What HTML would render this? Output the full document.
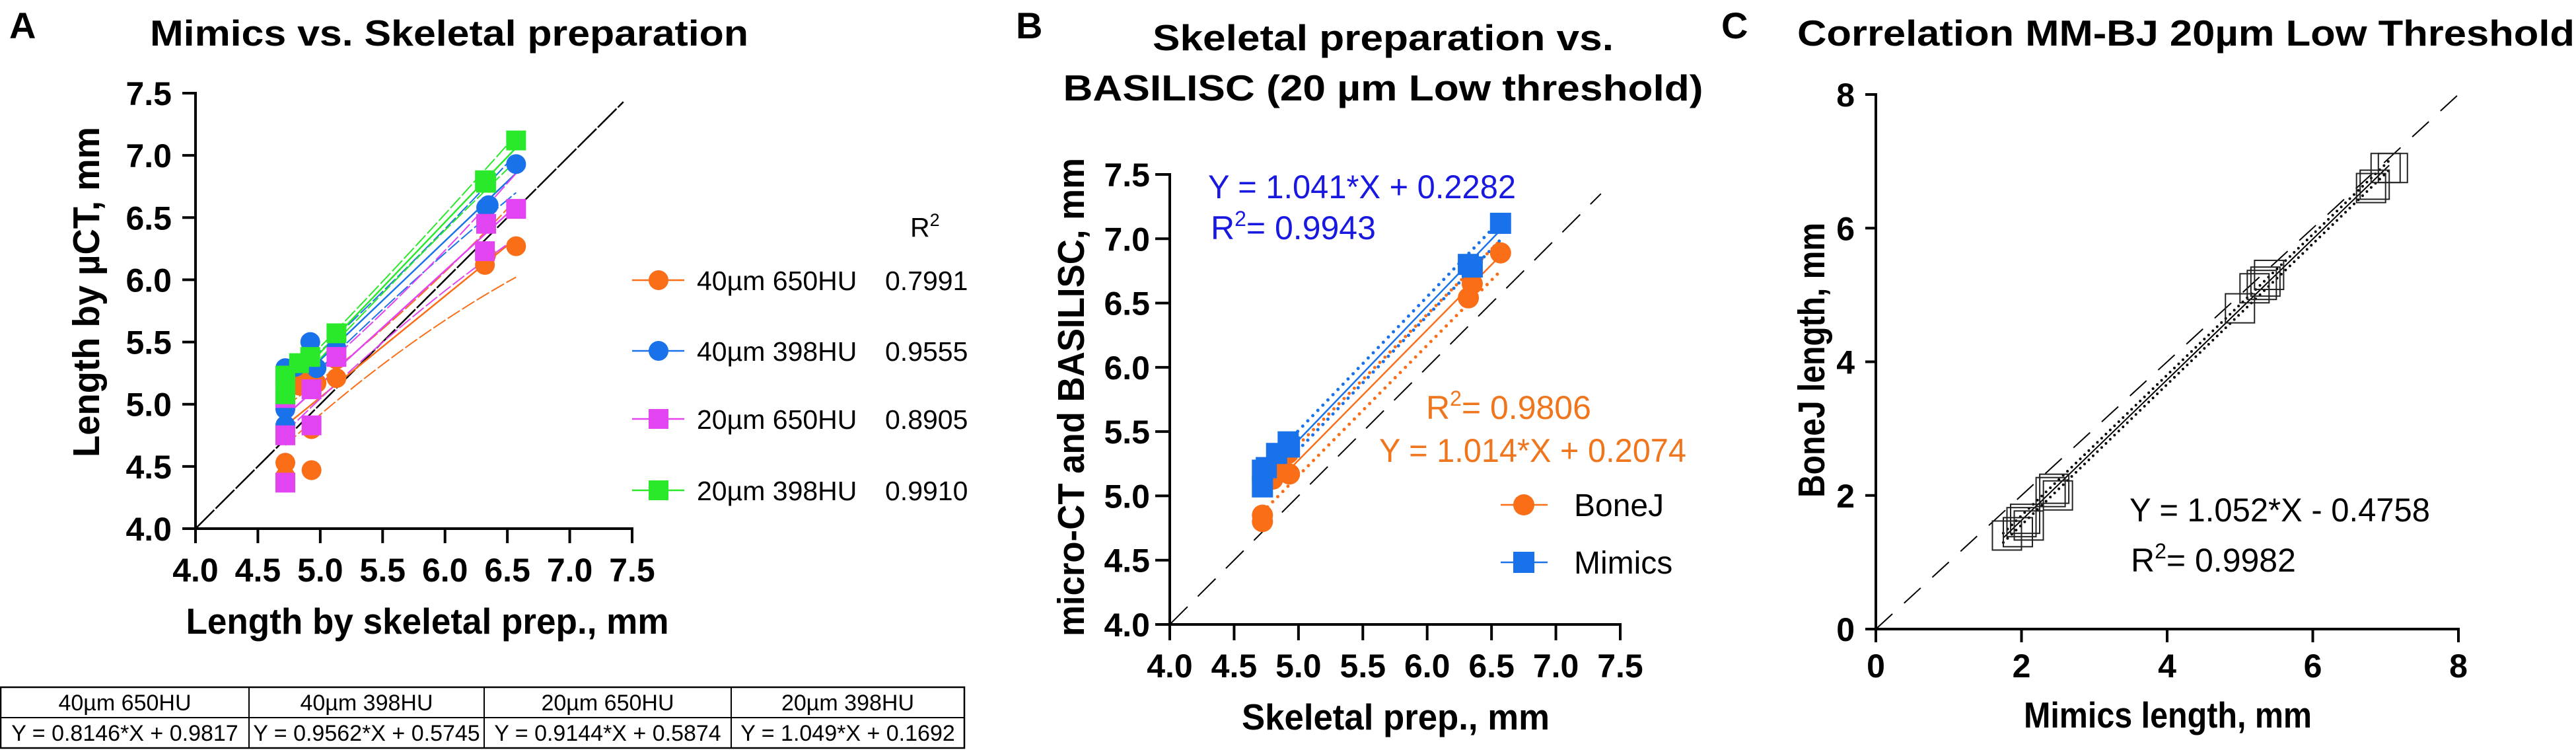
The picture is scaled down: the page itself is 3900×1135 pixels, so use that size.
<!DOCTYPE html>
<html><head><meta charset="utf-8"><style>
html,body{margin:0;padding:0;background:#fff;}
svg{display:block;font-family:"Liberation Sans",Arial,sans-serif;}
</style></head><body>
<svg id="fig" width="3900" height="1135" viewBox="0 0 3900 1135" xmlns="http://www.w3.org/2000/svg">
<g id="pA"></g>
<g id="pB"></g>
<g id="pC"></g>
</svg>
<script>
// ---------- Panel A data ----------
const aSeriesNames = ["40\u00b5m 650HU","40\u00b5m 398HU","20\u00b5m 650HU","20\u00b5m 398HU"];
const aR2 = ["0.7991","0.9555","0.8905","0.9910"];
const aSlopes = [0.8146,0.9562,0.9144,1.049];
const aIntercepts = [0.9817,0.5745,0.5874,0.1692];
const aEquations = ["Y = 0.8146*X + 0.9817","Y = 0.9562*X + 0.5745","Y = 0.9144*X + 0.5874","Y = 1.049*X + 0.1692"];
const aOrangeX = [4.72,4.72,4.93,4.93,4.72,4.78,4.83,4.92,4.97,5.13,5.13,6.32,6.33,6.57];
const aOrangeY = [4.53,4.42,4.47,4.80,5.17,5.18,5.15,5.23,5.17,5.36,5.21,6.12,6.20,6.27];
const aBlueX = [4.72,4.72,4.72,4.80,4.92,4.97,5.13,5.13,6.33,6.35,6.57];
const aBlueY = [4.83,4.96,5.29,5.30,5.50,5.29,5.53,5.45,6.58,6.60,6.93];
const aMagX = [4.72,4.72,4.72,4.93,4.93,5.13,6.32,6.33,6.57];
const aMagY = [4.37,4.75,5.05,4.83,5.12,5.38,6.23,6.45,6.57];
const aGreenX = [4.72,4.72,4.83,4.92,5.13,6.32,6.33,6.57];
const aGreenY = [5.08,5.23,5.33,5.38,5.57,6.80,6.78,7.12];
const aTicks = ["4.0","4.5","5.0","5.5","6.0","6.5","7.0","7.5"];
// ---------- Panel B data ----------
const bBoneX = [4.72,4.72,4.72,4.80,4.83,4.92,4.93,6.32,6.35,6.57];
const bBoneY = [4.85,4.80,5.11,5.13,5.21,5.33,5.17,6.54,6.65,6.89];
const bMimX = [4.72,4.72,4.75,4.83,4.92,4.93,6.32,6.35,6.57];
const bMimY = [5.07,5.20,5.22,5.33,5.42,5.38,6.80,6.78,7.12];
const bSlopes = [1.014,1.041];
const bIntercepts = [0.2074,0.2282];
const bTicks = ["4.0","4.5","5.0","5.5","6.0","6.5","7.0","7.5"];
// ---------- Panel C data ----------
const cX = [1.8,1.95,2.0,2.05,2.1,2.4,2.45,2.5,5.0,5.2,5.3,5.35,5.4,6.8,6.85,7.0,7.1];
const cY = [1.4,1.45,1.6,1.65,1.55,2.05,2.1,2.0,4.8,5.1,5.15,5.2,5.3,6.6,6.65,6.9,6.9];
const cSlope = 1.052, cIntercept = -0.4758;
const cTicks = ["0","2","4","6","8"];

const NS="http://www.w3.org/2000/svg";
function mk(parent,tag,attrs,text){const e=document.createElementNS(NS,tag);for(const k in attrs)e.setAttribute(k,attrs[k]);if(text!==undefined)e.textContent=text;parent.appendChild(e);return e;}
const COL={orange:"#fa6e18",blue:"#1a72ea",mag:"#e244f2",green:"#2ae82a",bluetxt:"#1818e0",orangetxt:"#f0761e"};

// ================= PANEL A =================
(function(){
const g=document.getElementById('pA');
const x0=296,x1=957,y0=800,y1=141;
const sx=v=>x0+(v-4)/3.5*(x1-x0), sy=v=>y0-(v-4)/3.5*(y0-y1);
let t;
t=mk(g,'text',{x:14,y:58,'font-size':56,'font-weight':'bold'},'A');

t=mk(g,'text',{x:227,y:69,'font-size':55,'font-weight':'bold',textLength:906,lengthAdjust:'spacingAndGlyphs'},'Mimics vs. Skeletal preparation');

t=mk(g,'line',{x1:sx(4),y1:sy(4),x2:sx(7.43),y2:sy(7.43),stroke:'#000','stroke-width':2.5,'stroke-dasharray':'40 3'});

const ax=mk(g,'g',{});
mk(ax,'line',{x1:x0,y1:y1-2,x2:x0,y2:y0+2,stroke:'#000','stroke-width':4});
mk(ax,'line',{x1:x0-2,y1:y0,x2:x1+2,y2:y0,stroke:'#000','stroke-width':4});
aTicks.forEach(s=>{const v=parseFloat(s);
 mk(ax,'line',{x1:x0-20,y1:sy(v),x2:x0,y2:sy(v),stroke:'#000','stroke-width':4});
 mk(ax,'line',{x1:sx(v),y1:y0,x2:sx(v),y2:y0+22,stroke:'#000','stroke-width':4});
 let a=mk(ax,'text',{x:260,y:sy(v)+18,'font-size':50,'font-weight':'bold','text-anchor':'end'},s);
 
 a=mk(ax,'text',{x:sx(v),y:880,'font-size':50,'font-weight':'bold','text-anchor':'middle'},s);
 
});
t=mk(g,'text',{x:0,y:0,'font-size':57,'font-weight':'bold','text-anchor':'middle',transform:'translate(150,442) rotate(-90)',textLength:500,lengthAdjust:'spacingAndGlyphs'},'Length by  \u00b5CT, mm');

t=mk(g,'text',{x:647,y:959,'font-size':55,'font-weight':'bold','text-anchor':'middle',textLength:731,lengthAdjust:'spacingAndGlyphs'},'Length by skeletal prep., mm');

const series=[[aOrangeX,aOrangeY,COL.orange,'c'],[aBlueX,aBlueY,COL.blue,'c'],[aMagX,aMagY,COL.mag,'s'],[aGreenX,aGreenY,COL.green,'s']];
series.forEach((s,i)=>{
 const m=aSlopes[i],b=aIntercepts[i],xa=4.72,xb=6.57;
 let l=mk(g,'line',{x1:sx(xa),y1:sy(m*xa+b),x2:sx(xb),y2:sy(m*xb+b),stroke:s[2],'stroke-width':2.5});
 
 const w=[0.12,0.06,0.1,0.04][i];
 [-1,1].forEach(d=>{const xm=(xa+xb)/2;
  const p=`M${sx(xa)},${sy(m*xa+b+d*w*1.3)} Q${sx(xm)},${sy(m*xm+b+d*w*0.6)} ${sx(xb)},${sy(m*xb+b+d*w*2.6)}`;
  let q=mk(g,'path',{d:p,fill:'none',stroke:s[2],'stroke-width':2,'stroke-dasharray':'22 4'});
  
 });
});
series.forEach((s,i)=>{
 s[0].forEach((xv,k)=>{let e;
  if(s[3]==='c') e=mk(g,'circle',{cx:sx(xv),cy:sy(s[1][k]),r:15,fill:s[2]});
  else e=mk(g,'rect',{x:sx(xv)-15,y:sy(s[1][k])-15,width:30,height:30,fill:s[2]});
  
 });
});
t=mk(g,'text',{x:1378,y:358,'font-size':41},'R');

mk(t,'tspan',{dy:-16,'font-size':27},'2');
const ly=[424,531,634,742];
series.forEach((s,i)=>{
 const lg=mk(g,'g',{});
 mk(lg,'line',{x1:957,y1:ly[i],x2:1036,y2:ly[i],stroke:s[2],'stroke-width':2.5});
 if(s[3]==='c') mk(lg,'circle',{cx:997,cy:ly[i],r:15,fill:s[2]});
 else mk(lg,'rect',{x:982,y:ly[i]-15,width:30,height:30,fill:s[2]});
 mk(lg,'text',{x:1055,y:ly[i]+15,'font-size':41},aSeriesNames[i]);
 mk(lg,'text',{x:1340,y:ly[i]+15,'font-size':41},aR2[i]);
});
const tb=mk(g,'g',{});
const cols=[1,377,733,1107,1460];
mk(tb,'rect',{x:1,y:1040,width:1459,height:92,fill:'none',stroke:'#000','stroke-width':2.5});
mk(tb,'line',{x1:1,y1:1086,x2:1460,y2:1086,stroke:'#000','stroke-width':2});
for(let i=1;i<4;i++) mk(tb,'line',{x1:cols[i],y1:1040,x2:cols[i],y2:1132,stroke:'#000','stroke-width':2});
for(let i=0;i<4;i++){const cx=(cols[i]+cols[i+1])/2;
 mk(tb,'text',{x:cx,y:1075,'font-size':34,'text-anchor':'middle'},aSeriesNames[i]);
 mk(tb,'text',{x:cx,y:1121,'font-size':34,'text-anchor':'middle'},aEquations[i]);
}
})();

// ================= PANEL B =================
(function(){
const g=document.getElementById('pB');
const x0=1771,x1=2453,y0=945,y1=264;
const sx=v=>x0+(v-4)/3.5*(x1-x0), sy=v=>y0-(v-4)/3.5*(y0-y1);
let t;
t=mk(g,'text',{x:1538,y:58,'font-size':56,'font-weight':'bold'},'B');

t=mk(g,'text',{x:2094,y:76,'font-size':55,'font-weight':'bold','text-anchor':'middle',textLength:698,lengthAdjust:'spacingAndGlyphs'},'Skeletal preparation vs.');

t=mk(g,'text',{x:2094,y:152,'font-size':55,'font-weight':'bold','text-anchor':'middle',textLength:969,lengthAdjust:'spacingAndGlyphs'},'BASILISC (20 \u00b5m Low threshold)');

t=mk(g,'line',{x1:sx(4),y1:sy(4),x2:sx(7.35),y2:sy(7.35),stroke:'#000','stroke-width':2,'stroke-dasharray':'38 22'});

const ax=mk(g,'g',{});
mk(ax,'line',{x1:x0,y1:y1-2,x2:x0,y2:y0+2,stroke:'#000','stroke-width':4});
mk(ax,'line',{x1:x0-2,y1:y0,x2:x1+2,y2:y0,stroke:'#000','stroke-width':4});
bTicks.forEach(s=>{const v=parseFloat(s);
 mk(ax,'line',{x1:x0-22,y1:sy(v),x2:x0,y2:sy(v),stroke:'#000','stroke-width':4});
 mk(ax,'line',{x1:sx(v),y1:y0,x2:sx(v),y2:y0+24,stroke:'#000','stroke-width':4});
 let a=mk(ax,'text',{x:x0-30,y:sy(v)+18,'font-size':50,'font-weight':'bold','text-anchor':'end'},s);
 
 a=mk(ax,'text',{x:sx(v),y:1025,'font-size':50,'font-weight':'bold','text-anchor':'middle'},s);
 
});
t=mk(g,'text',{x:0,y:0,'font-size':57,'font-weight':'bold','text-anchor':'middle',transform:'translate(1641,601) rotate(-90)',textLength:724,lengthAdjust:'spacingAndGlyphs'},'micro-CT and BASILISC, mm');

t=mk(g,'text',{x:2113,y:1104,'font-size':55,'font-weight':'bold','text-anchor':'middle',textLength:466,lengthAdjust:'spacingAndGlyphs'},'Skeletal prep., mm');

const ser=[[bBoneX,bBoneY,COL.orange,'c'],[bMimX,bMimY,COL.blue,'s']];
ser.forEach((s,i)=>{const m=bSlopes[i],b=bIntercepts[i],xa=4.72,xb=6.57;
 let l=mk(g,'line',{x1:sx(xa),y1:sy(m*xa+b),x2:sx(xb),y2:sy(m*xb+b),stroke:s[2],'stroke-width':2.5});
 
 [-1,1].forEach(d=>{const w=i?0.05:0.08;
  let q=mk(g,'line',{x1:sx(xa),y1:sy(m*xa+b+d*w*1.5),x2:sx(xb),y2:sy(m*xb+b+d*w*1.5),stroke:s[2],'stroke-width':5,'stroke-dasharray':'0 11','stroke-linecap':'round'});
  
 });
});
ser.forEach(s=>{s[0].forEach((xv,k)=>{let e;
 if(s[3]==='c') e=mk(g,'circle',{cx:sx(xv),cy:sy(s[1][k]),r:16,fill:s[2]});
 else e=mk(g,'rect',{x:sx(xv)-16,y:sy(s[1][k])-16,width:32,height:32,fill:s[2]});
 });});
t=mk(g,'text',{x:1829,y:300,'font-size':50,fill:COL.bluetxt,textLength:466,lengthAdjust:'spacingAndGlyphs'},'Y = 1.041*X + 0.2282');

t=mk(g,'text',{x:1833,y:362,'font-size':50,fill:COL.bluetxt},'');

mk(t,'tspan',{},'R');mk(t,'tspan',{dy:-20,'font-size':32},'2');mk(t,'tspan',{dy:20},'= 0.9943');
t=mk(g,'text',{x:2159,y:634,'font-size':50,fill:COL.orangetxt},'');

mk(t,'tspan',{},'R');mk(t,'tspan',{dy:-20,'font-size':32},'2');mk(t,'tspan',{dy:20},'=  0.9806');
t=mk(g,'text',{x:2088,y:699,'font-size':50,fill:COL.orangetxt,textLength:465,lengthAdjust:'spacingAndGlyphs'},'Y = 1.014*X + 0.2074');

const ln=[["BoneJ",COL.orange,'c',764],["Mimics",COL.blue,'s',851]];
ln.forEach(e=>{const lg=mk(g,'g',{});
 mk(lg,'line',{x1:2272,y1:e[3],x2:2343,y2:e[3],stroke:e[1],'stroke-width':2.5});
 if(e[2]==='c') mk(lg,'circle',{cx:2307,cy:e[3],r:16,fill:e[1]}); else mk(lg,'rect',{x:2291,y:e[3]-16,width:32,height:32,fill:e[1]});
 mk(lg,'text',{x:2383,y:e[3]+17,'font-size':48},e[0]);
});
})();

// ================= PANEL C =================
(function(){
const g=document.getElementById('pC');
const x0=2840,x1=3722,y0=952,y1=143;
const sx=v=>x0+v/8*(x1-x0), sy=v=>y0-v/8*(y0-y1);
let t;
t=mk(g,'text',{x:2606,y:58,'font-size':56,'font-weight':'bold'},'C');

t=mk(g,'text',{x:2721,y:69,'font-size':55,'font-weight':'bold',textLength:1177,lengthAdjust:'spacingAndGlyphs'},'Correlation MM-BJ 20\u00b5m Low Threshold');

t=mk(g,'line',{x1:sx(0),y1:sy(0),x2:sx(8),y2:sy(8),stroke:'#000','stroke-width':2,'stroke-dasharray':'34 24'});

const ax=mk(g,'g',{});
mk(ax,'line',{x1:x0,y1:y1-2,x2:x0,y2:y0+2,stroke:'#000','stroke-width':4});
mk(ax,'line',{x1:x0-2,y1:y0,x2:x1+2,y2:y0,stroke:'#000','stroke-width':4});
cTicks.forEach(s=>{const v=parseFloat(s);
 mk(ax,'line',{x1:x0-16,y1:sy(v),x2:x0,y2:sy(v),stroke:'#000','stroke-width':4});
 mk(ax,'line',{x1:sx(v),y1:y0,x2:sx(v),y2:y0+20,stroke:'#000','stroke-width':4});
 let a=mk(ax,'text',{x:2808,y:sy(v)+18,'font-size':50,'font-weight':'bold','text-anchor':'end'},s);
 
 a=mk(ax,'text',{x:sx(v),y:1025,'font-size':50,'font-weight':'bold','text-anchor':'middle'},s);
 
});
t=mk(g,'text',{x:0,y:0,'font-size':57,'font-weight':'bold','text-anchor':'middle',transform:'translate(2762,545) rotate(-90)',textLength:416,lengthAdjust:'spacingAndGlyphs'},'BoneJ length, mm');

t=mk(g,'text',{x:3282,y:1101,'font-size':55,'font-weight':'bold','text-anchor':'middle',textLength:436,lengthAdjust:'spacingAndGlyphs'},'Mimics length, mm');

const xa=1.75,xb=7.05;
t=mk(g,'line',{x1:sx(xa),y1:sy(cSlope*xa+cIntercept),x2:sx(xb),y2:sy(cSlope*xb+cIntercept),stroke:'#000','stroke-width':2});

[-1,1].forEach(d=>{
 let q=mk(g,'line',{x1:sx(xa),y1:sy(cSlope*xa+cIntercept+d*0.07),x2:sx(xb),y2:sy(cSlope*xb+cIntercept+d*0.07),stroke:'#000','stroke-width':4,'stroke-dasharray':'0 9','stroke-linecap':'round'});
 
});
cX.forEach((xv,k)=>{
 const e=mk(g,'rect',{x:sx(xv)-22,y:sy(cY[k])-22,width:44,height:44,fill:'none',stroke:'#222','stroke-width':2});
 
});
t=mk(g,'text',{x:3224,y:789,'font-size':50,textLength:455,lengthAdjust:'spacingAndGlyphs'},'Y = 1.052*X - 0.4758');

t=mk(g,'text',{x:3226,y:865,'font-size':50},'');

mk(t,'tspan',{},'R');mk(t,'tspan',{dy:-20,'font-size':32},'2');mk(t,'tspan',{dy:20},'= 0.9982');
})();
</script>
</body></html>
